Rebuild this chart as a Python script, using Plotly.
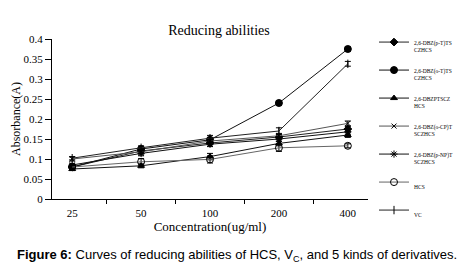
import plotly.graph_objects as go

categories = ["25", "50", "100", "200", "400"]

names = [
    "2,6-DBZ(p-T)TS<br>CZHCS",
    "2,6-DBZ(o-T)TS<br>CZHCS",
    "2,6-DBZPTSCZ<br>HCS",
    "2,6-DBZ(o-CP)T<br>SCZHCS",
    "2,6-DBZ(p-NP)T<br>SCZHCS",
    "HCS",
    "VC",
]

pT = [0.080, 0.120, 0.140, 0.155, 0.175]
oT = [0.080, 0.125, 0.148, 0.240, 0.375]
PTSCZ = [0.075, 0.083, 0.106, 0.139, 0.160]
oCP = [0.100, 0.118, 0.145, 0.158, 0.189]
pNP = [0.085, 0.114, 0.137, 0.150, 0.168]
HCS = [0.080, 0.093, 0.099, 0.128, 0.133]
VC = [0.102, 0.128, 0.152, 0.170, 0.338]

pT_err = [0.004, 0.005, 0.005, 0.006, 0.006]
oT_err = [0.004, 0.005, 0.005, 0.005, 0.005]
PTSCZ_err = [0.004, 0.005, 0.008, 0.006, 0.006]
oCP_err = [0.005, 0.006, 0.006, 0.006, 0.006]
pNP_err = [0.004, 0.006, 0.006, 0.006, 0.006]
HCS_err = [0.004, 0.008, 0.009, 0.009, 0.005]
VC_err = [0.004, 0.005, 0.007, 0.008, 0.006]

series = [pT, oT, PTSCZ, oCP, pNP, HCS, VC]
errors = [pT_err, oT_err, PTSCZ_err, oCP_err, pNP_err, HCS_err, VC_err]
symbols = ["diamond", "circle", "triangle-up", "x-thin-open", "asterisk-open", "circle-open", "line-ns-open"]
line_colors = ["#222222", "#111111", "#111111", "#555555", "#111111", "#666666", "#222222"]
sizes = [6, 7, 6, 5, 6, 7, 6]

# page body has an 8px margin: figure is drawn 8px in from the window edge
W, H = 458, 261
L, R, T, B = 44, 360, 31, 191   # plot area in figure px

fig = go.Figure()
for i, (nm, ys, er) in enumerate(zip(names, series, errors)):
    fig.add_trace(go.Scatter(
        x=categories, y=ys, name=nm, mode="lines+markers",
        legendgroup=f"g{i}",
        line=dict(color=line_colors[i], width=1),
        marker=dict(symbol=symbols[i], size=sizes[i], color="black",
                    line=dict(color="black", width=1)),
        error_y=dict(type="data", array=er, visible=True, color="black",
                     thickness=1, width=3),
    ))

pw, ph = R - L, B - T
fig.update_layout(
    width=W, height=H,
    margin=dict(l=L, r=W - R, t=T, b=H - B, autoexpand=False),
    paper_bgcolor="white", plot_bgcolor="white",
    font=dict(family="Liberation Serif, Times New Roman, serif", color="black", size=11),
    title=dict(text="Reducing abilities", x=211 / W, xanchor="center",
               y=1 - 22 / H, yanchor="middle",
               font=dict(size=14, family="Liberation Serif, serif")),
    showlegend=True,
    legend=dict(x=(366 - L) / pw, y=(B - 24) / ph, xanchor="left", yanchor="top",
                font=dict(size=5.5, family="Liberation Serif, serif"),
                tracegroupgap=9, valign="top", itemwidth=30, maxheight=250,
                bgcolor="rgba(0,0,0,0)", borderwidth=0),
    xaxis=dict(
        type="category", showline=True, linecolor="black", linewidth=1,
        ticks="outside", ticklen=4, tickcolor="black", tickson="boundaries",
        showgrid=False, zeroline=False, ticklabelstandoff=4,
        tickfont=dict(size=11),
        title=dict(text="Concentration(ug/ml)", font=dict(size=13), standoff=3),
    ),
    yaxis=dict(
        range=[0, 0.4], dtick=0.05, showline=True, linecolor="black", linewidth=1,
        ticks="outside", ticklen=6, tickcolor="black", showgrid=False, zeroline=False,
        tickfont=dict(size=11), tickformat="~g",
        title=dict(text="Absorbance(A)", font=dict(size=12), standoff=0),
    ),
    annotations=[dict(
        text="<b>Figure 6:</b> Curves of reducing abilities of HCS, V<sub>C</sub>, and 5 kinds of derivatives.",
        xref="paper", yref="paper", x=(7 - L) / pw, y=-(247 - B) / ph,
        xanchor="left", yanchor="middle", showarrow=False,
        font=dict(family="Liberation Sans, Arial, sans-serif", size=13, color="black"),
    )],
)

fig.write_html("out.html")
